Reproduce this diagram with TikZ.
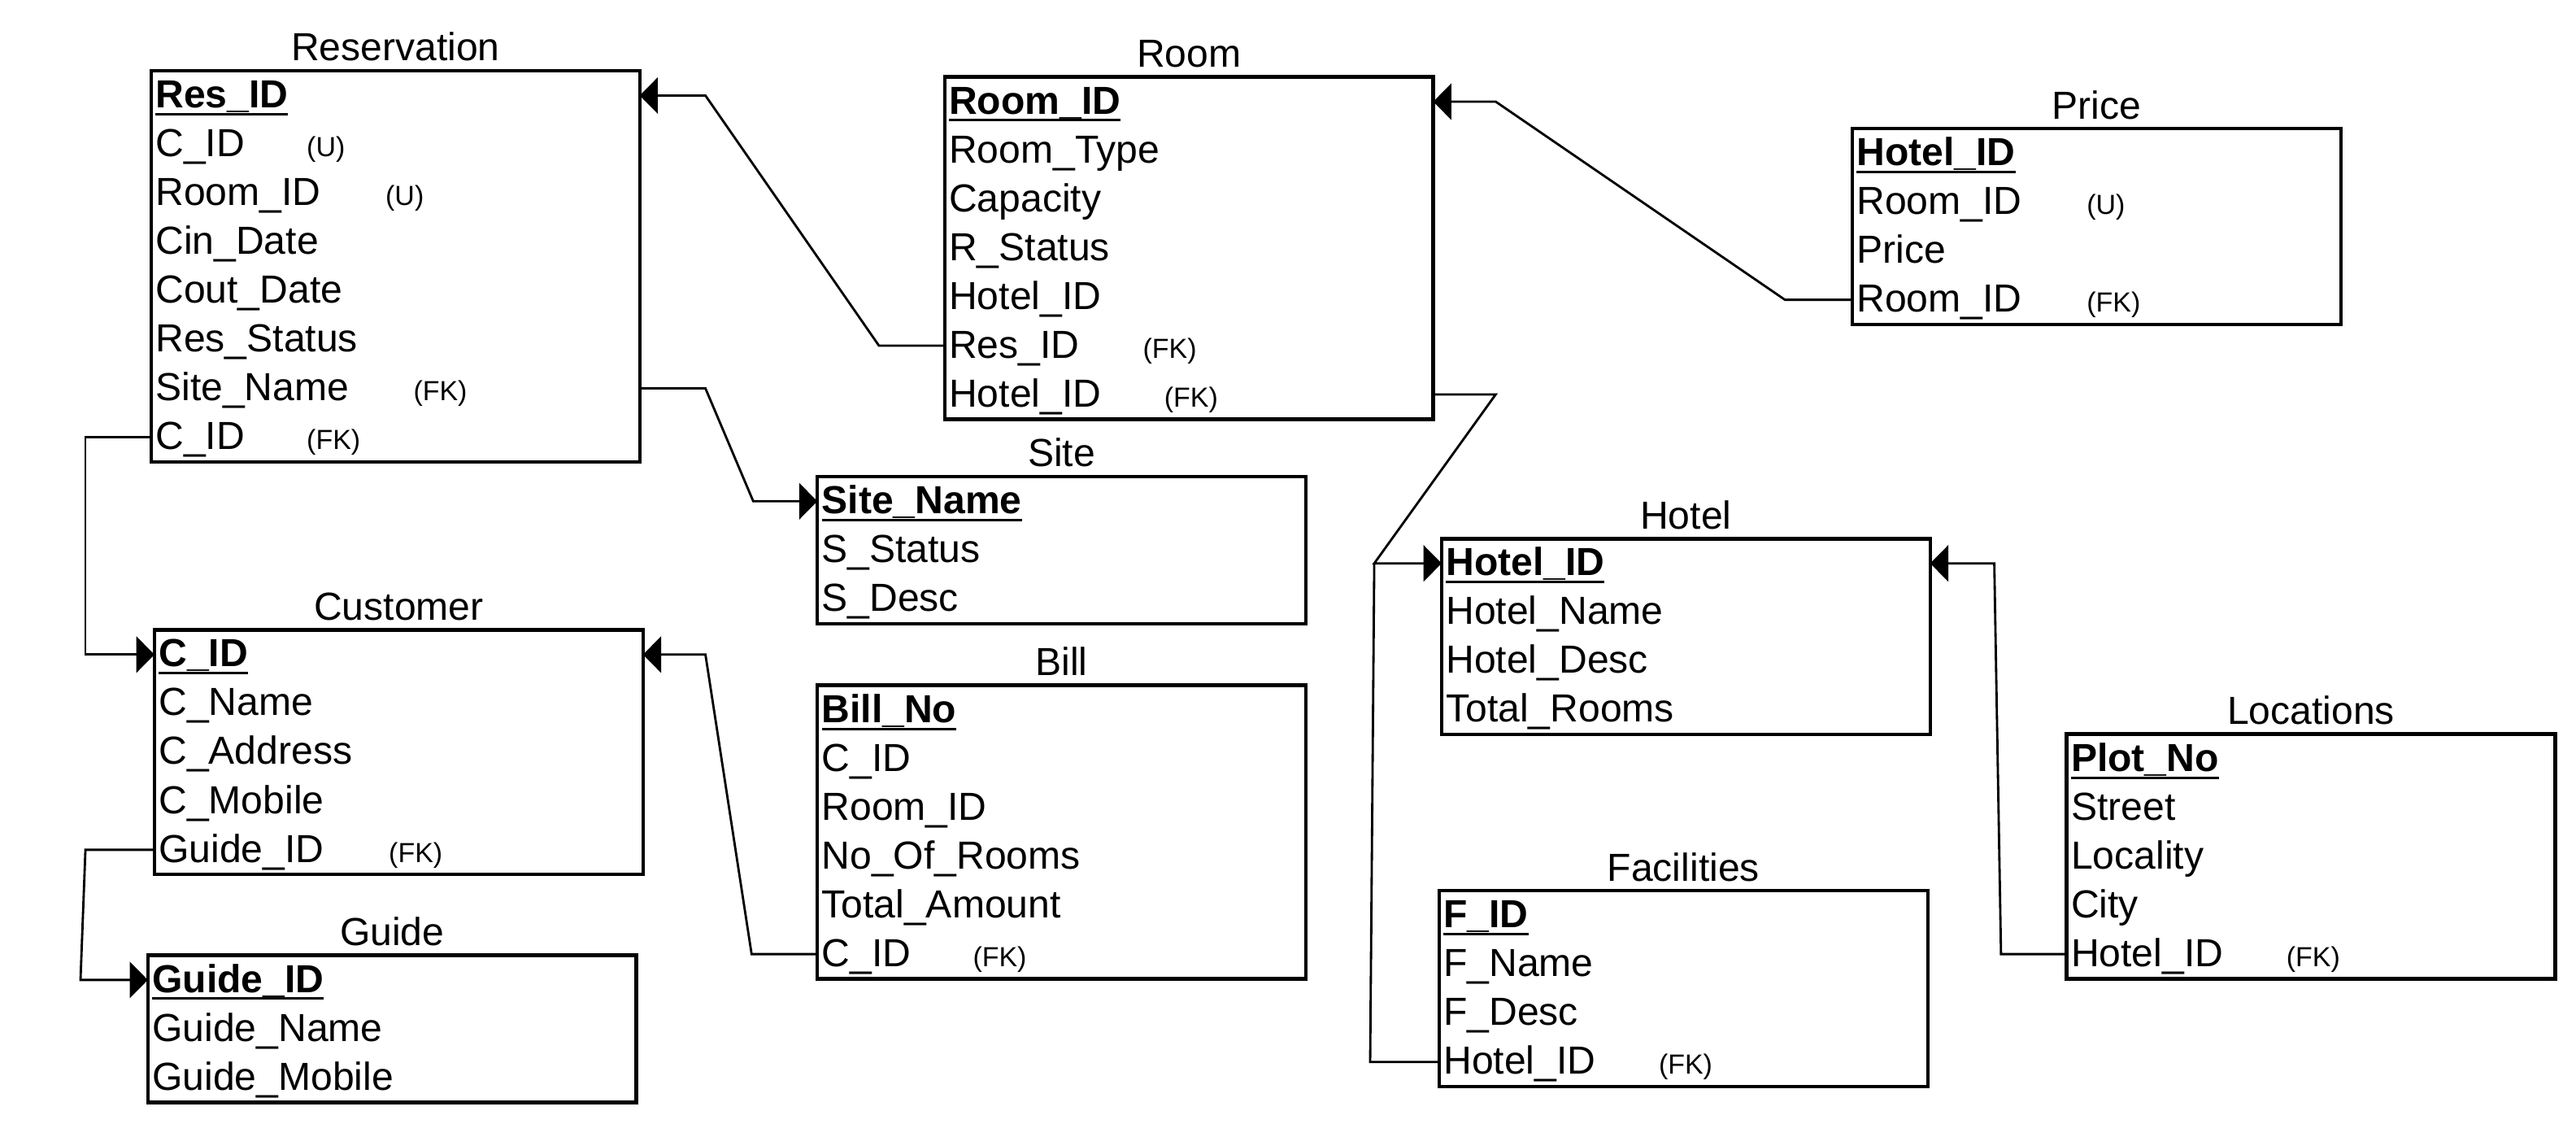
\documentclass[tikz,border=0pt]{standalone}
\usepackage{fontspec}
\setmainfont{Liberation Sans}
\usetikzlibrary{arrows.meta,positioning,calc}
\newsavebox\pkbox
\newcommand\tagfont{\fontsize{16.8}{19}\selectfont}
\newcommand\pkey[1]{\sbox\pkbox{\bfseries#1}\rlap{\rule[-4.6pt]{\wd\pkbox}{1.5pt}}\usebox\pkbox}
\newcommand\attr[3]{\makebox[#2pt][l]{#1}{\tagfont#3}}

\begin{document}
\begin{tikzpicture}[x=1pt, y=-1pt, >={Triangle[length=11pt,width=22pt]},
  every node/.style={font=\fontsize{23.8}{28}\selectfont},
  row/.style={anchor=west, inner xsep=2.5pt, inner ysep=0pt, text width=292pt, minimum height=29.7pt, align=left, text height=16pt, text depth=1pt},
  tbl/.style={line width=2.2pt},
  ttl/.style={anchor=base, inner sep=0pt},
  fkline/.style={->, line width=1.4pt, line join=miter}]
\fill[white] (0,0) rectangle (1568,684);
\useasboundingbox (0,0) rectangle (1568,684);

% tables
\foreach \fld [count=\i] in {\pkey{Res\_ID}, \attr{C\_ID}{92}{(U)}, \attr{Room\_ID}{140}{(U)}, Cin\_Date, Cout\_Date, Res\_Status, \attr{Site\_Name}{157}{(FK)}, \attr{C\_ID}{92}{(FK)}}
  \node[row] (res\i) at (92,{43.3+14.85+(\i-1)*29.7}) {\fld};
\foreach \fld [count=\i] in {\pkey{Room\_ID}, Room\_Type, Capacity, R\_Status, Hotel\_ID, \attr{Res\_ID}{118}{(FK)}, \attr{Hotel\_ID}{131}{(FK)}}
  \node[row] (room\i) at (575,{47+14.85+(\i-1)*29.7}) {\fld};
\foreach \fld [count=\i] in {\pkey{Hotel\_ID}, \attr{Room\_ID}{140}{(U)}, Price, \attr{Room\_ID}{140}{(FK)}}
  \node[row] (price\i) at (1127.5,{78.5+14.85+(\i-1)*29.7}) {\fld};
\foreach \fld [count=\i] in {\pkey{Site\_Name}, S\_Status, S\_Desc}
  \node[row] (site\i) at (497.5,{290.2+14.85+(\i-1)*29.7}) {\fld};
\foreach \fld [count=\i] in {\pkey{C\_ID}, C\_Name, C\_Address, C\_Mobile, \attr{Guide\_ID}{140}{(FK)}}
  \node[row] (cust\i) at (94,{383.5+14.85+(\i-1)*29.7}) {\fld};
\foreach \fld [count=\i] in {\pkey{Bill\_No}, C\_ID, Room\_ID, No\_Of\_Rooms, Total\_Amount, \attr{C\_ID}{92}{(FK)}}
  \node[row] (bill\i) at (497.5,{417.3+14.85+(\i-1)*29.7}) {\fld};
\foreach \fld [count=\i] in {\pkey{Guide\_ID}, Guide\_Name, Guide\_Mobile}
  \node[row] (guide\i) at (90,{581.5+14.85+(\i-1)*29.7}) {\fld};
\foreach \fld [count=\i] in {\pkey{Hotel\_ID}, Hotel\_Name, Hotel\_Desc, Total\_Rooms}
  \node[row] (hotel\i) at (877.5,{328+14.85+(\i-1)*29.7}) {\fld};
\foreach \fld [count=\i] in {\pkey{F\_ID}, F\_Name, F\_Desc, \attr{Hotel\_ID}{131}{(FK)}}
  \node[row] (fac\i) at (876,{542.3+14.85+(\i-1)*29.7}) {\fld};
\foreach \fld [count=\i] in {\pkey{Plot\_No}, Street, Locality, City, \attr{Hotel\_ID}{131}{(FK)}}
  \node[row] (loc\i) at (1258,{447+14.85+(\i-1)*29.7}) {\fld};

\foreach \n/\k/\T in {res/8/Reservation, room/7/Room, price/4/Price, site/3/Site, cust/5/Customer, bill/6/Bill, guide/3/Guide, hotel/4/Hotel, fac/4/Facilities, loc/5/Locations}{
  \draw[tbl] (\n1.north west) rectangle (\n\k.south east);
  \node[ttl] (\n-title) at ([yshift=6pt]\n1.north) {\T};
}

% foreign keys
\foreach \a/\sa/\b/\sb in {room6.west/-40/res1.east/40, price4.west/-41/room1.east/38, res7.east/40/site1.west/-39, res8.west/-40/cust1.west/-42, bill6.west/-40/cust1.east/38, cust5.west/-42/guide1.west/-41, room7.east/38/hotel1.west/-41, loc5.west/-40/hotel1.east/39}
  \draw[fkline] (\a) -- ([xshift=\sa pt]\a) -- ([xshift=\sb pt]\b) -- (\b);
\draw[line width=1.4pt] (fac4.west) -- ++(-42,0) -- ([xshift=-41pt]hotel1.west);

\end{tikzpicture}
\end{document}
